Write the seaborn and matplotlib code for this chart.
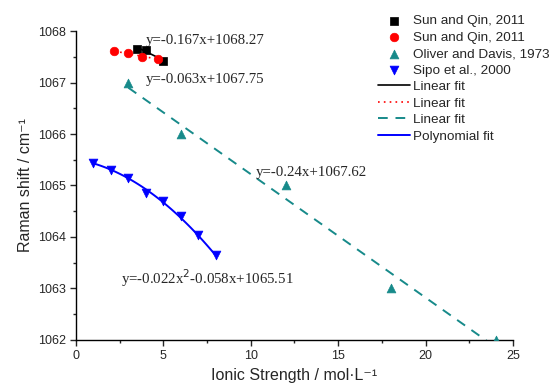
import numpy as np
import pandas as pd
import matplotlib
matplotlib.use("Agg")
import matplotlib.pyplot as plt
import seaborn as sns
from matplotlib.ticker import MultipleLocator

sns.set_style("ticks")
plt.rcParams['font.family'] = ['Liberation Sans', 'DejaVu Sans']

# data
sun1_x = [3.5, 4.0, 5.0]
sun1_y = [1067.66, 1067.63, 1067.42]
sun2_x = [2.2, 3.0, 3.8, 4.7]
sun2_y = [1067.61, 1067.57, 1067.50, 1067.46]
oliver_x = [3, 6, 12, 18, 24]
oliver_y = [1067.0, 1066.0, 1065.0, 1063.0, 1062.0]
sipo_x = [1, 2, 3, 4, 5, 6, 7, 8]
sipo_y = [1065.43, 1065.31, 1065.15, 1064.85, 1064.69, 1064.41, 1064.03, 1063.65]

fit1 = (-0.167, 1068.27)
fit2 = (-0.063, 1067.75)
fit3 = (-0.24, 1067.62)
poly = (-0.022, -0.058, 1065.51)

fig = plt.figure(figsize=(5.54, 3.84), dpi=100)
ax = fig.add_axes([0.137, 0.115, 0.789, 0.804])

teal = '#178a8a'

sns.scatterplot(x=sun1_x, y=sun1_y, ax=ax, marker='s', color='black', s=32, edgecolor='black', linewidth=0.5, label='Sun and Qin, 2011', zorder=5)
sns.scatterplot(x=sun2_x, y=sun2_y, ax=ax, marker='o', color='red', s=38, edgecolor='red', linewidth=0.5, label='Sun and Qin, 2011', zorder=5)
sns.scatterplot(x=oliver_x, y=oliver_y, ax=ax, marker='^', color=teal, s=40, edgecolor=teal, linewidth=0.5, label='Oliver and Davis, 1973', zorder=5)
sns.scatterplot(x=sipo_x, y=sipo_y, ax=ax, marker='v', color='blue', s=40, edgecolor='blue', linewidth=0.5, label='Sipo et al., 2000', zorder=5)

x1 = np.linspace(min(sun1_x), max(sun1_x), 20)
sns.lineplot(x=x1, y=fit1[0]*x1 + fit1[1], ax=ax, color='black', lw=1.2, label='Linear fit')
x2 = np.linspace(min(sun2_x), max(sun2_x), 20)
ax.plot(x2, fit2[0]*x2 + fit2[1], color='red', lw=1.2, ls=(0, (1, 2.5)), label='Linear fit')
x3 = np.linspace(min(oliver_x), max(oliver_x), 50)
ax.plot(x3, fit3[0]*x3 + fit3[1], color=teal, lw=1.4, ls=(0, (5, 4)), label='Linear fit')
x4 = np.linspace(min(sipo_x), max(sipo_x), 50)
ax.plot(x4, poly[0]*x4**2 + poly[1]*x4 + poly[2], color='blue', lw=1.4, label='Polynomial fit')

ax.set_xlim(0, 25)
ax.set_ylim(1062, 1068)
ax.xaxis.set_major_locator(MultipleLocator(5))
ax.xaxis.set_minor_locator(MultipleLocator(2.5))
ax.yaxis.set_major_locator(MultipleLocator(1))
ax.yaxis.set_minor_locator(MultipleLocator(0.5))
ax.tick_params(which='major', length=4, width=1, labelsize=9, direction='out', pad=3)
ax.tick_params(which='minor', length=2.5, width=1, direction='out')
for s in ['top', 'right']:
    ax.spines[s].set_visible(False)
for s in ['left', 'bottom']:
    ax.spines[s].set_linewidth(1.0)
    ax.spines[s].set_color('black')

ax.set_xlabel('Ionic Strength / mol·L⁻¹', fontsize=11.5, labelpad=4.5)
ax.set_ylabel('Raman shift / cm⁻¹', fontsize=11.5, labelpad=4)

tf = dict(family=['Liberation Serif', 'DejaVu Serif'], fontsize=10.7)
ax.text(4.0, 1067.82, 'y=-0.167x+1068.27', **tf, va='center')
ax.text(4.0, 1067.05, 'y=-0.063x+1067.75', **tf, va='center')
ax.text(10.3, 1065.25, 'y=-0.24x+1067.62', **tf, va='center')
ax.text(2.6, 1063.2, 'y=-0.022x$^{2}$-0.058x+1065.51', **tf, va='center')

ax.legend(loc='upper right', bbox_to_anchor=(1.096, 1.07), frameon=False, fontsize=9.7,
          handlelength=2.4, handletextpad=0.2, labelspacing=0.3, borderaxespad=0)

fig.savefig('out.png', dpi=100)
